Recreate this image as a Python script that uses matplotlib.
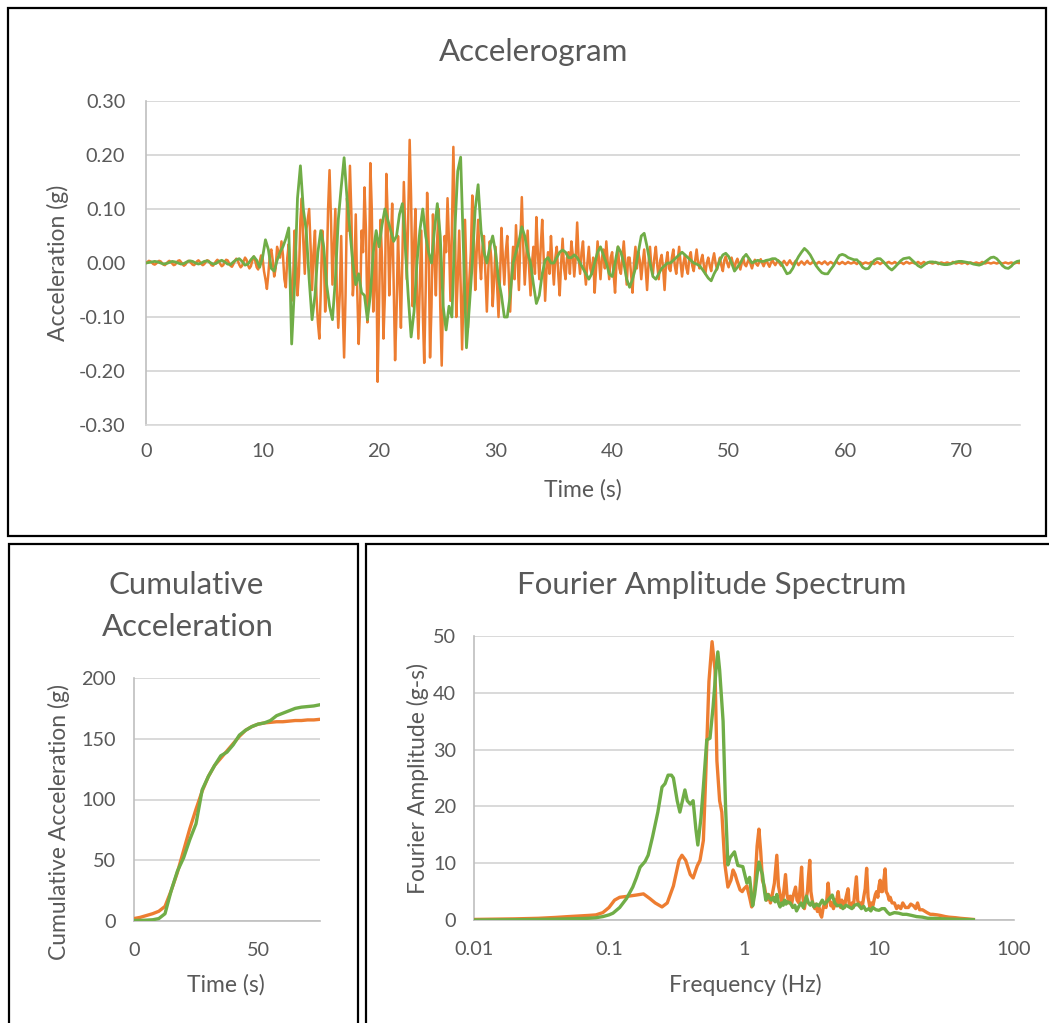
import matplotlib
matplotlib.use('Agg')
import matplotlib.pyplot as plt
import numpy as np
from matplotlib.patches import Rectangle
from matplotlib.ticker import FixedLocator, FixedFormatter, NullLocator

plt.rcParams['font.family'] = ['Lato', 'DejaVu Sans']
plt.rcParams['axes.unicode_minus'] = False

ORANGE = '#ED7D31'
GREEN = '#70AD47'
TXT = '#595959'
GRID = '#D9D9D9'
AXC = '#BFBFBF'

# ---------------- Accelerogram data (one row = 1 s) ----------------
acc_dt_orange = 0.125
acc_orange = [
    0.000, 0.002, 0.004, 0.003, 0.001, -0.002, -0.003, -0.001,
    0.002, 0.004, 0.003, 0.000, -0.003, -0.004, -0.001, 0.002,
    0.004, 0.002, -0.001, -0.004, -0.003, 0.001, 0.004, 0.005,
    0.002, -0.002, -0.005, -0.003, 0.001, 0.004, 0.003, 0.000,
    -0.003, -0.004, -0.001, 0.003, 0.005, 0.002, -0.002, -0.004,
    -0.002, 0.002, 0.005, 0.004, 0.000, -0.004, -0.005, -0.001,
    0.003, 0.006, 0.003, -0.002, -0.006, -0.004, 0.002, 0.006,
    0.005, 0.000, -0.005, -0.007, -0.002, 0.004, 0.008, 0.004,
    -0.003, -0.008, -0.005, 0.003, 0.010, 0.006, -0.004, -0.010,
    -0.006, 0.005, 0.012, 0.004, -0.008, -0.012, 0.002, 0.014,
    0.010, -0.015, -0.030, -0.048, -0.020, 0.015, 0.025, 0.005,
    -0.025, -0.010, 0.030, 0.020, 0.010, 0.040, 0.015, -0.030,
    -0.045, 0.010, 0.035, -0.020, -0.070, -0.030, 0.060, 0.020,
    -0.060, -0.020, 0.080, 0.120, 0.040, -0.020, 0.060, 0.080,
    0.100, 0.030, -0.050, 0.020, 0.060, -0.060, -0.110, -0.140,
    -0.050, 0.060, 0.020, -0.090, -0.030, 0.100, 0.172, 0.080,
    -0.040, 0.030, 0.100, -0.050, -0.120, -0.060, 0.050, -0.080,
    -0.175, -0.060, 0.120, 0.060, 0.180, 0.090, -0.060, -0.020,
    0.090, -0.050, -0.150, -0.080, 0.060, 0.020, 0.140, 0.060,
    -0.110, -0.040, 0.185, 0.100, -0.090, -0.030, 0.050, -0.220,
    -0.080, 0.080, 0.010, -0.140, -0.060, 0.165, 0.080, -0.060,
    0.020, 0.110, -0.040, -0.180, -0.090, 0.050, -0.030, -0.120,
    0.010, 0.150, 0.060, -0.030, 0.080, 0.228, 0.120, -0.080,
    0.030, 0.100, -0.060, -0.140, -0.040, 0.060, -0.090, -0.185,
    -0.050, 0.130, 0.040, -0.175, -0.080, 0.090, 0.010, -0.060,
    0.050, 0.100, -0.080, -0.190, -0.060, 0.050, 0.020, 0.120,
    0.040, -0.070, 0.060, 0.215, 0.090, -0.100, -0.030, 0.060,
    -0.040, -0.160, -0.050, 0.080, -0.020, -0.120, -0.030, 0.020,
    0.125, 0.050, -0.050, 0.020, 0.080, 0.010, -0.030, 0.030,
    0.050, -0.020, -0.090, -0.010, 0.040, 0.010, -0.080, -0.030,
    0.030, -0.040, -0.100, -0.030, 0.065, 0.010, -0.040, 0.020,
    0.050, -0.020, -0.090, -0.020, 0.030, -0.030, 0.070, 0.010,
    -0.050, 0.040, 0.122, 0.030, -0.040, 0.010, 0.060, -0.010,
    -0.060, 0.000, 0.030, -0.020, 0.085, 0.020, -0.030, 0.030,
    0.080, 0.010, -0.070, -0.010, 0.020, -0.020, 0.050, 0.000,
    -0.040, 0.010, 0.030, -0.020, -0.060, 0.000, 0.045, -0.010,
    -0.030, 0.010, 0.020, -0.020, 0.040, 0.015, -0.025, 0.010,
    0.075, 0.010, -0.020, 0.020, 0.040, -0.010, -0.040, 0.000,
    0.030, -0.010, -0.020, 0.010, -0.055, -0.010, 0.040, 0.005,
    -0.030, 0.010, 0.025, -0.010, 0.040, 0.000, -0.030, 0.010,
    0.020, -0.020, -0.055, 0.000, 0.030, -0.010, -0.020, 0.010,
    0.040, 0.000, -0.040, 0.010, 0.010, -0.020, -0.055, 0.000,
    0.030, -0.010, 0.020, 0.005, -0.030, 0.000, 0.025, -0.010,
    -0.050, 0.000, 0.030, -0.010, -0.020, 0.010, 0.030, -0.005,
    -0.030, 0.005, 0.015, -0.010, -0.050, 0.000, 0.020, -0.010,
    -0.015, 0.010, 0.025, -0.005, -0.020, 0.005, 0.030, 0.000,
    -0.025, 0.000, 0.015, -0.010, -0.020, 0.010, 0.020, -0.005,
    -0.015, 0.005, 0.025, 0.000, -0.010, 0.005, 0.015, -0.005,
    -0.020, 0.000, 0.010, -0.005, -0.015, 0.005, 0.018, 0.000,
    -0.012, 0.000, 0.010, -0.005, -0.015, 0.005, 0.012, 0.000,
    -0.008, 0.003, 0.010, -0.002, -0.010, 0.002, 0.008, -0.002,
    -0.012, 0.000, 0.010, -0.003, -0.006, 0.002, 0.008, -0.002,
    -0.010, 0.000, 0.006, -0.002, -0.005, 0.002, 0.007, 0.000,
    -0.006, 0.001, 0.005, -0.002, -0.007, 0.000, 0.006, 0.000,
    -0.004, 0.001, 0.005, -0.001, -0.005, 0.000, 0.004, 0.000,
    -0.004, 0.001, 0.005, 0.000, -0.003, 0.000, 0.004, 0.000,
    -0.004, 0.000, 0.003, 0.000, -0.003, 0.001, 0.004, 0.000,
    -0.002, 0.000, 0.003, 0.000, -0.003, 0.000, 0.002, 0.000,
    -0.002, 0.001, 0.003, 0.000, -0.003, 0.000, 0.002, 0.000,
    -0.002, 0.000, 0.003, 0.000, -0.002, 0.000, 0.002, 0.000,
    -0.002, 0.000, 0.002, 0.000, -0.001, 0.000, 0.002, 0.000,
    -0.002, 0.001, 0.002, 0.000, -0.002, 0.000, 0.001, 0.000,
    -0.001, 0.000, 0.002, 0.000, -0.002, 0.000, 0.002, 0.000,
    -0.002, 0.000, 0.001, 0.000, -0.001, 0.001, 0.002, 0.000,
    -0.001, 0.000, 0.002, 0.000, -0.002, 0.000, 0.001, 0.000,
    -0.002, 0.000, 0.002, 0.001, -0.001, 0.000, 0.001, 0.000,
    -0.001, 0.000, 0.002, 0.000, -0.002, 0.000, 0.002, 0.000,
    -0.001, 0.001, 0.001, 0.000, -0.001, 0.000, 0.002, 0.000,
    -0.002, 0.000, 0.001, 0.000, -0.001, 0.000, 0.001, 0.000,
    -0.001, 0.000, 0.002, 0.000, -0.001, 0.000, 0.001, 0.000,
    -0.001, 0.000, 0.001, 0.000, -0.002, 0.000, 0.001, 0.000,
    -0.001, 0.000, 0.001, 0.000, -0.001, 0.000, 0.002, 0.000,
    -0.001, 0.000, 0.001, 0.000, -0.001, 0.000, 0.001, 0.000,
    -0.001, 0.000, 0.001, 0.000, -0.001, 0.000, 0.001, 0.000,
    -0.001, 0.000, 0.001, 0.000, -0.001, 0.000, 0.001, 0.000,
    0.000,
]
acc_dt_green = 0.25
acc_green = [
    0.000, 0.001, 0.002, 0.003,
    0.002, 0.000, -0.002, -0.001,
    0.001, 0.003, 0.002, 0.000,
    -0.002, -0.001, 0.002, 0.004,
    0.003, 0.000, -0.002, 0.000,
    0.003, 0.004, 0.001, -0.002,
    -0.001, 0.003, 0.005, 0.002,
    -0.002, -0.003, 0.002, 0.006,
    0.008, 0.003, -0.004, -0.002,
    0.006, 0.012, 0.005, -0.008,
    0.010, 0.043, 0.025, -0.010,
    -0.015, 0.005, 0.020, 0.030,
    0.045, 0.065, -0.150, -0.040,
    0.120, 0.180, 0.100, 0.060,
    -0.030, -0.105, -0.060, 0.020,
    0.060, 0.030, -0.040, -0.080,
    -0.105, -0.030, 0.080, 0.140,
    0.195, 0.120, 0.060, 0.000,
    -0.040, -0.020, -0.055, -0.060,
    -0.105, -0.060, 0.020, 0.060,
    0.030, 0.070, 0.100, 0.080,
    0.060, 0.040, 0.050, 0.090,
    0.110, 0.030, -0.060, -0.137,
    -0.090, 0.000, 0.060, 0.100,
    0.050, 0.020, 0.000, 0.060,
    0.110, 0.050, -0.080, -0.124,
    -0.080, -0.100, 0.060, 0.170,
    0.196, 0.020, -0.157, -0.080,
    0.000, 0.100, 0.145, 0.060,
    0.020, 0.000, 0.030, 0.050,
    0.020, -0.030, -0.060, -0.100,
    -0.100, -0.060, 0.000, 0.020,
    0.040, 0.067, 0.050, 0.020,
    0.000, -0.040, -0.075, -0.060,
    -0.020, 0.005, 0.010, 0.000,
    0.000, 0.010, 0.020, 0.024,
    0.020, 0.010, 0.010, 0.015,
    0.010, 0.000, -0.010, -0.020,
    -0.030, -0.020, 0.000, 0.020,
    0.030, 0.015, 0.000, -0.020,
    -0.025, 0.000, 0.030, 0.020,
    0.000, -0.030, -0.045, -0.030,
    -0.010, 0.020, 0.050, 0.055,
    0.030, 0.000, -0.025, -0.030,
    -0.020, -0.010, -0.005, 0.000,
    0.000, 0.005, 0.010, 0.015,
    0.020, 0.015, 0.010, 0.005,
    0.000, -0.002, -0.005, -0.012,
    -0.020, -0.028, -0.033, -0.020,
    -0.010, 0.005, 0.015, 0.018,
    0.012, 0.000, -0.015, -0.008,
    0.000, 0.010, 0.016, 0.008,
    0.000, 0.003, 0.005, 0.003,
    0.003, 0.005, 0.006, 0.008,
    0.008, 0.004, 0.000, -0.010,
    -0.020, -0.018, -0.010, 0.002,
    0.012, 0.020, 0.027, 0.022,
    0.015, 0.005, -0.005, -0.012,
    -0.018, -0.020, -0.020, -0.012,
    -0.005, 0.005, 0.014, 0.016,
    0.014, 0.010, 0.008, 0.006,
    0.006, 0.000, -0.008, -0.011,
    -0.010, -0.002, 0.005, 0.008,
    0.008, 0.003, -0.003, -0.009,
    -0.013, -0.008, -0.002, 0.004,
    0.008, 0.009, 0.010, 0.005,
    0.000, -0.005, -0.008, -0.004,
    0.000, 0.002, 0.002, 0.001,
    0.000, -0.002, -0.003, -0.003,
    -0.002, 0.000, 0.002, 0.003,
    0.003, 0.002, 0.001, 0.000,
    -0.002, -0.003, -0.004, -0.002,
    0.002, 0.006, 0.010, 0.011,
    0.008, 0.002, -0.005, -0.009,
    -0.010, -0.006, 0.000, 0.003,
    0.004,
]
t_orange = np.arange(len(acc_orange)) * acc_dt_orange
t_green = np.arange(len(acc_green)) * acc_dt_green

acc_yticks = [-0.30, -0.20, -0.10, 0.00, 0.10, 0.20, 0.30]
acc_xticks = [0, 10, 20, 30, 40, 50, 60, 70]

# ---------------- Cumulative acceleration ----------------
cum_time = [0, 2.5, 5, 7.5, 10, 12.5, 15, 17.5, 20, 22.5, 25, 27.5, 30, 32.5, 35,
            37.5, 40, 42.5, 45, 47.5, 50, 52.5, 55, 57.5, 60, 62.5, 65, 67.5, 70, 72.5, 75]
cum_orange = [2, 3, 4.5, 6, 8, 12, 25, 40, 58, 76, 92, 107, 119, 128, 134,
              140, 146, 152, 157, 160, 162, 163, 163.5, 164, 164, 164.5, 165, 165, 165.5, 165.5, 166]
cum_green = [0.5, 0.5, 0.7, 1, 2, 6, 25, 41, 52, 67, 80, 108, 119, 128, 136,
             139, 145, 153, 157, 160, 162, 163, 165, 169, 171, 173, 175, 176, 176.5, 177, 178]

# ---------------- Fourier amplitude spectrum ----------------
fas_freq_orange = [
    0.01, 0.02, 0.03, 0.04, 0.05, 0.06, 0.07, 0.08, 0.09, 0.1, 0.11, 0.12, 0.14, 0.16,
    0.18, 0.2, 0.22, 0.247, 0.27, 0.3, 0.33, 0.347, 0.37, 0.4, 0.42, 0.45, 0.472,
    0.5, 0.52, 0.55, 0.58, 0.61, 0.63, 0.66, 0.685, 0.72, 0.76, 0.8, 0.83, 0.86, 0.89,
    0.935, 0.97,
    1.0, 1.05, 1.1, 1.14, 1.2, 1.25, 1.29, 1.33, 1.37, 1.42, 1.47, 1.52, 1.57, 1.62,
    1.68, 1.75, 1.8, 1.85, 1.9, 1.95, 2.0, 2.03, 2.08, 2.15, 2.2, 2.25, 2.3, 2.36,
    2.41, 2.47, 2.55, 2.6, 2.67, 2.73, 2.8, 2.87, 2.95, 3.0, 3.07, 3.13, 3.2, 3.27,
    3.35, 3.42, 3.5, 3.6, 3.68, 3.76, 3.85, 3.95, 4.05, 4.12, 4.2, 4.3, 4.4, 4.5,
    4.6, 4.7, 4.8, 4.9, 4.98, 5.1, 5.2, 5.3, 5.4, 5.55, 5.7, 5.9, 6.0, 6.15, 6.3,
    6.45, 6.6, 6.8, 6.95, 7.1, 7.3, 7.5, 7.7, 7.9, 8.1, 8.3, 8.6, 8.8, 9.0, 9.2,
    9.4, 9.6, 9.8, 10.0, 10.2, 10.4, 10.6, 10.8, 11.1, 11.3, 11.6, 11.9, 12.1, 12.5,
    13.0, 13.5, 13.9, 14.5, 15, 15.7, 16.5, 17.2, 18, 18.7, 19.3, 20, 21, 22, 22.7,
    24, 25, 27, 28.5, 31, 33, 37, 40, 45, 50]
fas_amp_orange = [
    0.1, 0.2, 0.3, 0.45, 0.6, 0.7, 0.8, 0.9, 1.3, 2.2, 3.5, 4.0, 4.2, 4.4,
    4.6, 3.8, 3.0, 2.3, 3.0, 6.0, 10.5, 11.4, 10.5, 8.0, 7.4, 9.5, 10.5,
    14, 25, 42, 49, 44, 28, 21, 19, 10, 5.8, 7.0, 8.8, 8.0, 6.8,
    5.3, 5.0,
    5.5, 6.0, 4.0, 2.3, 5.5, 13, 16, 12, 7.0, 5.8, 3.5, 4.5, 3.0, 4.5,
    6.5, 11.4, 6.0, 4.5, 3.2, 4.0, 6.5, 8.0, 4.5, 3.0, 4.2, 2.8, 4.0, 5.0,
    5.8, 3.5, 3.0, 5.5, 9.3, 4.0, 2.0, 3.5, 5.0, 7.5, 10.5, 5.0, 3.5, 2.5,
    2.0, 2.8, 1.5, 2.2, 1.0, 0.5, 2.0, 3.0, 2.2, 4.0, 6.5, 3.5, 2.5, 3.0,
    2.0, 3.5, 2.5, 4.0, 5.0, 3.0, 2.2, 3.5, 3.0, 2.2, 4.0, 5.5, 3.0, 2.5, 3.0,
    2.2, 4.5, 7.6, 3.5, 2.5, 3.0, 2.2, 4.0, 5.5, 9.1, 4.0, 2.0, 3.0, 2.5, 3.5,
    4.5, 5.0, 4.0, 6.0, 7.0, 5.0, 5.0, 6.5, 9.0, 5.0, 4.5, 3.5, 4.0, 3.0,
    3.0, 2.0, 2.5, 2.0, 3.0, 2.2, 2.2, 2.8, 2.5, 2.0, 3.0, 1.8, 1.8, 1.5, 1.3,
    1.0, 1.0, 0.9, 0.8, 0.6, 0.5, 0.4, 0.3, 0.2, 0.1]
fas_freq_green = [
    0.01, 0.02, 0.03, 0.04, 0.05, 0.06, 0.07, 0.08, 0.09, 0.1, 0.107, 0.12, 0.135,
    0.15, 0.16, 0.17, 0.185, 0.195, 0.21, 0.23, 0.247, 0.26, 0.274, 0.29, 0.3, 0.32,
    0.335, 0.35, 0.365, 0.38, 0.4, 0.42, 0.44, 0.455, 0.48, 0.5, 0.53, 0.56, 0.59,
    0.62, 0.64, 0.66, 0.7, 0.73, 0.76, 0.79, 0.85, 0.9, 0.98, 1.05, 1.1, 1.13, 1.16,
    1.2, 1.25, 1.29, 1.33, 1.37, 1.42, 1.45, 1.5, 1.55, 1.6, 1.65, 1.7, 1.75, 1.8,
    1.85, 1.9, 1.95, 2.0, 2.05, 2.1, 2.2, 2.3, 2.38, 2.45, 2.55, 2.65, 2.75, 2.9,
    3.0, 3.1, 3.2, 3.3, 3.45, 3.6, 3.8, 3.95, 4.1, 4.3, 4.5, 4.7, 4.9, 5.2, 5.4,
    5.7, 6.0, 6.3, 6.6, 7.0, 7.4, 7.7, 8.0, 8.4, 8.7, 9.0, 9.5, 10, 10.5, 11, 11.5,
    12, 13, 14, 15, 16, 17.5, 19, 21, 23, 26, 30, 35, 40, 45, 50]
fas_amp_green = [
    0.0, 0.05, 0.1, 0.15, 0.2, 0.25, 0.3, 0.4, 0.6, 0.9, 1.2, 2.2, 3.8,
    5.8, 7.5, 9.3, 10.3, 11.4, 14.6, 19, 23.4, 24, 25.5, 25.5, 25, 21,
    19, 21, 22.9, 21, 20.4, 21, 16, 13.2, 18, 23.4, 31.7, 32, 37.5,
    44, 47.2, 44, 35, 20, 9.7, 11, 12, 9.6, 9.4, 6.5, 7.5, 5.0, 2.5,
    4.5, 8.0, 10.2, 9.0, 8.0, 5.0, 3.5, 4.5, 3.8, 3.5, 4.0, 3.2, 4.5, 3.0,
    2.3, 3.0, 2.6, 3.5, 2.8, 3.2, 3.0, 2.2, 2.6, 1.6, 2.4, 3.0, 2.2, 4.2,
    3.0, 2.6, 3.2, 2.3, 2.8, 2.5, 3.5, 2.8, 3.2, 3.8, 4.4, 3.0, 2.5, 2.6, 2.0,
    2.6, 2.3, 2.0, 2.6, 2.8, 2.0, 2.4, 1.7, 2.0, 1.6, 2.2, 1.8, 1.7, 2.0, 2.0, 1.4,
    1.0, 1.3, 1.2, 1.0, 1.0, 0.8, 0.6, 0.5, 0.3, 0.3, 0.2, 0.15, 0.1, 0.08, 0.05]

W, H = 1049, 1023
fig = plt.figure(figsize=(W / 100, H / 100), dpi=100)


def fx(px):
    return px / W


def fy(py):
    return 1 - py / H


def box(x0, y0, x1, y1):
    fig.add_artist(Rectangle((fx(x0), fy(y1)), fx(x1) - fx(x0), fy(y0) - fy(y1),
                             transform=fig.transFigure, fill=False, ec='black', lw=1.6,
                             clip_on=False))


def make_ax(x0, y0, x1, y1):
    ax = fig.add_axes([fx(x0), fy(y1), fx(x1) - fx(x0), fy(y0) - fy(y1)])
    for s in ['top', 'right']:
        ax.spines[s].set_visible(False)
    ax.spines['left'].set_color(AXC)
    ax.spines['left'].set_linewidth(1.2)
    ax.spines['bottom'].set_color(AXC)
    ax.spines['bottom'].set_linewidth(1.2)
    ax.grid(axis='y', color=GRID, lw=1.4)
    ax.set_axisbelow(True)
    ax.tick_params(length=0, colors=TXT, labelsize=14.3)
    return ax


box(8, 8, 1046, 536)
box(9, 544, 358, 1030)
box(366, 544, 1060, 1030)

# Top: accelerogram
ax1 = make_ax(146, 101, 1020, 425)
ax1.plot(t_orange, acc_orange, color=ORANGE, lw=1.8, zorder=3)
ax1.plot(t_green, acc_green, color=GREEN, lw=2.0, zorder=4)
ax1.set_xlim(0, 75)
ax1.set_ylim(-0.30, 0.30)
ax1.yaxis.set_major_locator(FixedLocator(acc_yticks))
ax1.yaxis.set_major_formatter(FixedFormatter(['%.2f' % v for v in acc_yticks]))
ax1.xaxis.set_major_locator(FixedLocator(acc_xticks))
ax1.xaxis.set_major_formatter(FixedFormatter([str(v) for v in acc_xticks]))
ax1.spines['bottom'].set_color(GRID)
ax1.tick_params(axis='y', pad=15)
ax1.tick_params(axis='x', pad=13)
fig.text(fx(534), fy(52), 'Accelerogram', ha='center', va='center', fontsize=22.5, color=TXT)
fig.text(fx(583), fy(490), 'Time (s)', ha='center', va='center', fontsize=16.5, color=TXT)
fig.text(fx(58), fy(263), 'Acceleration (g)', ha='center', va='center', rotation=90,
         fontsize=16.5, color=TXT)

# Bottom-left: cumulative
ax2 = make_ax(134, 678, 320, 921)
ax2.plot(cum_time, cum_orange, color=ORANGE, lw=2.4, zorder=3)
ax2.plot(cum_time, cum_green, color=GREEN, lw=2.4, zorder=4)
ax2.set_xlim(0, 75)
ax2.set_ylim(0, 200)
ax2.yaxis.set_major_locator(FixedLocator([0, 50, 100, 150, 200]))
ax2.xaxis.set_major_locator(FixedLocator([0, 50]))
ax2.tick_params(axis='y', pad=13)
ax2.tick_params(axis='x', pad=15)
fig.text(fx(186), fy(585), 'Cumulative', ha='center', va='center',
         fontsize=22.5, color=TXT)
fig.text(fx(188), fy(627), 'Acceleration', ha='center', va='center',
         fontsize=22.5, color=TXT)
fig.text(fx(226), fy(985), 'Time (s)', ha='center', va='center', fontsize=16.5, color=TXT)
fig.text(fx(59), fy(822), 'Cumulative Acceleration (g)', ha='center', va='center',
         rotation=90, fontsize=16.5, color=TXT)

# Bottom-right: Fourier amplitude spectrum
ax3 = make_ax(474, 636, 1014, 920)
ax3.plot(fas_freq_orange, fas_amp_orange, color=ORANGE, lw=2.4, zorder=3)
ax3.plot(fas_freq_green, fas_amp_green, color=GREEN, lw=2.4, zorder=4)
ax3.set_xscale('log')
ax3.set_xlim(0.01, 100)
ax3.set_ylim(0, 50)
fas_xticks = [0.01, 0.1, 1, 10, 100]
ax3.xaxis.set_major_locator(FixedLocator(fas_xticks))
ax3.xaxis.set_major_formatter(FixedFormatter(['0.01', '0.1', '1', '10', '100']))
ax3.xaxis.set_minor_locator(NullLocator())
ax3.yaxis.set_major_locator(FixedLocator([0, 10, 20, 30, 40, 50]))
ax3.tick_params(axis='y', pad=13)
ax3.tick_params(axis='x', pad=15)
fig.text(fx(712), fy(585), 'Fourier Amplitude Spectrum', ha='center', va='center',
         fontsize=22.5, color=TXT)
fig.text(fx(745), fy(985), 'Frequency (Hz)', ha='center', va='center', fontsize=16.5, color=TXT)
fig.text(fx(418), fy(778), 'Fourier Amplitude (g-s)', ha='center', va='center',
         rotation=90, fontsize=16.5, color=TXT)

fig.savefig('out.png', dpi=100)
